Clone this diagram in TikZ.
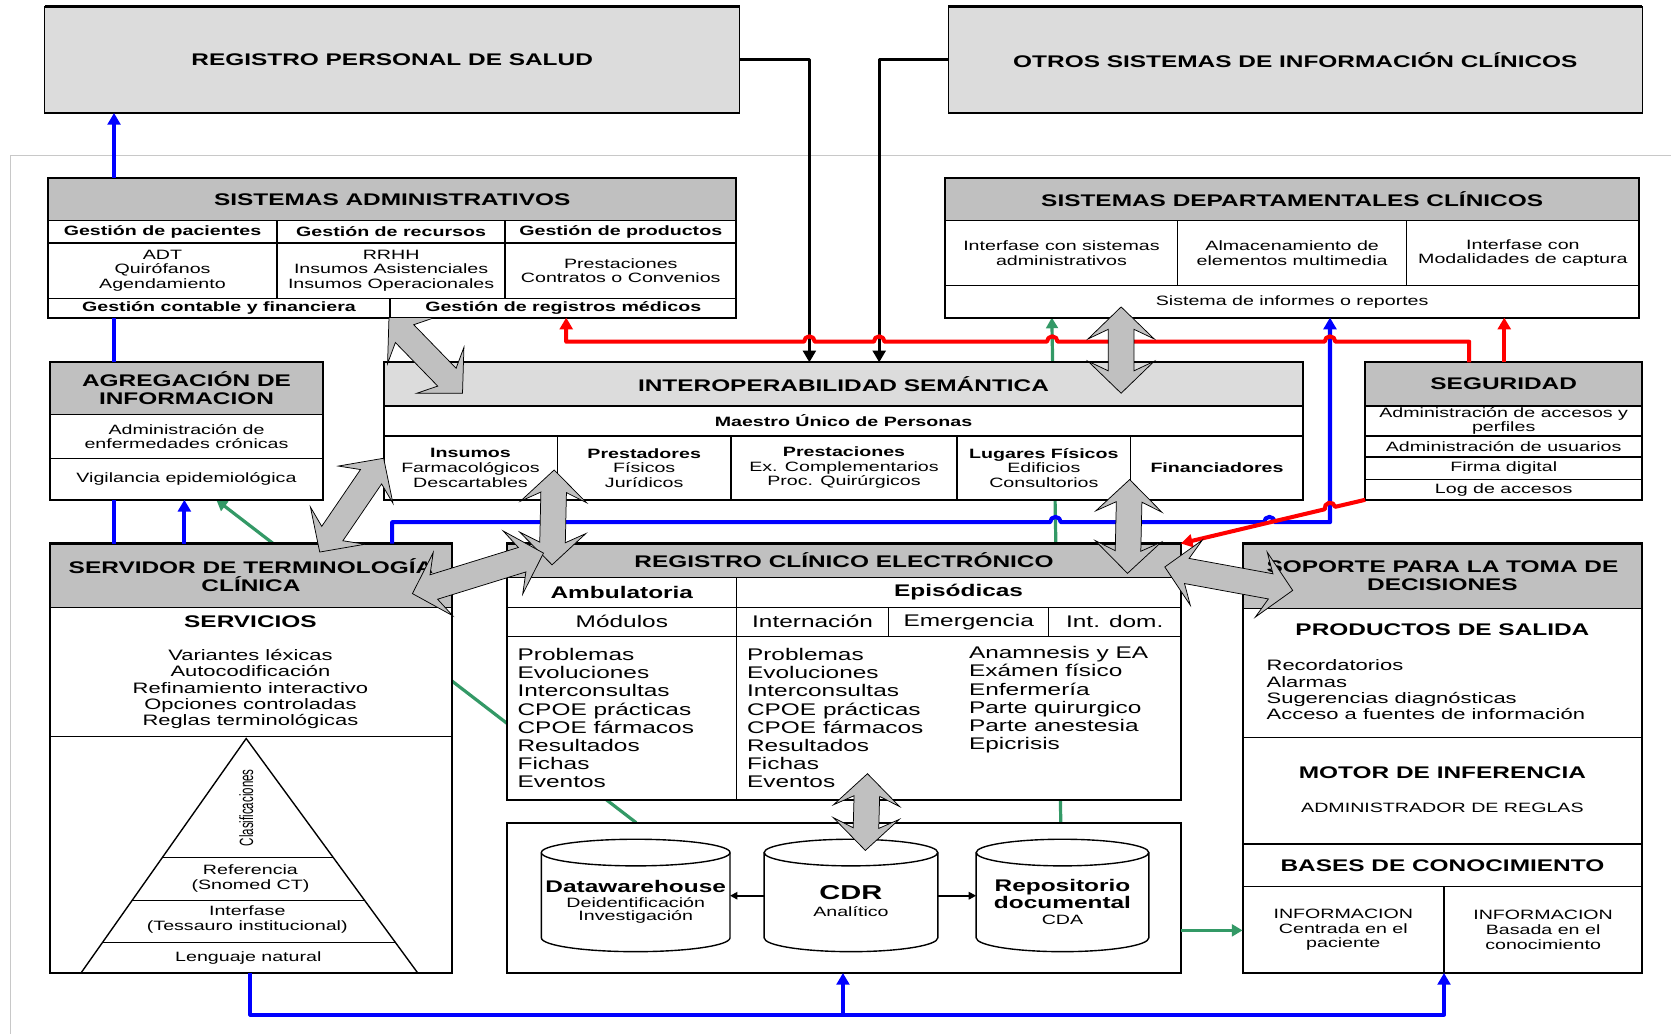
\documentclass[tikz,border=0pt]{standalone}
\usepackage{fontspec}
\setmainfont{Liberation Sans}[FakeStretch=1.45]
\newfontfamily\narrowsans{Liberation Sans}[FakeStretch=0.6]
\usetikzlibrary{arrows.meta,calc,backgrounds}

\definecolor{hdrgray}{HTML}{C0C0C0}
\definecolor{ltgray}{HTML}{DCDCDC}
\definecolor{arrgray}{HTML}{C0C0C0}
\definecolor{lnblue}{HTML}{0000FF}
\definecolor{lnred}{HTML}{FF0000}
\definecolor{lngreen}{HTML}{339966}
\definecolor{framegray}{HTML}{C8C8C8}

\newcommand\fL{\fontsize{15.8pt}{17.1pt}\selectfont}
\newcommand\fM{\fontsize{14.2pt}{15.3pt}\selectfont}
\newcommand\fS{\fontsize{12.7pt}{13.7pt}\selectfont}

% a cell given by its corners (x1,y1)-(x2,y2), y growing downwards
\newcommand\cel[7]{\node[#6,minimum width={#4-#2},minimum height={#5-#3}] (#1) at ({(#2+#4)/2},{(#3+#5)/2}) {#7};}
% heavy outline of a whole block
\newcommand\frm[5]{\node[outerbox,minimum width={#4-#2},minimum height={#5-#3}] (#1) at ({(#2+#4)/2},{(#3+#5)/2}) {};}
% database cylinder: name, centre x, half width
\newcommand\cyl[3]{%
  \node[inner sep=0pt,outer sep=0pt,minimum width={2*#3},minimum height=105] (#1) at (#2,840.5) {};
  \draw[line width=1.3pt,fill=white] ({#2-#3},800) -- ({#2-#3},880)
     arc[start angle=180,end angle=360,x radius={#3*1pt},y radius=13pt] -- ({#2+#3},800);
  \draw[line width=1.3pt,fill=white] (#2,800) ellipse[x radius={#3*1pt},y radius=12.5pt];}
% broad grey double-headed arrow between two points
\newcommand\fatarrow[2]{%
  \path[fatarr] let \p1=(#1), \p2=(#2),
     \n1={atan2(\y2-\y1,\x2-\x1)}, \n3={atan2(\y2-\y1,\x2-\x1)+90} in
     (\p1)
     -- ($(\p1)+(\n1:30pt)+(\n3:31pt)$)
     -- ($(\p1)+(\n1:21pt)+(\n3:12pt)$)
     -- ($(\p2)+(\n1:-21pt)+(\n3:12pt)$)
     -- ($(\p2)+(\n1:-30pt)+(\n3:31pt)$)
     -- (\p2)
     -- ($(\p2)+(\n1:-30pt)+(\n3:-31pt)$)
     -- ($(\p2)+(\n1:-21pt)+(\n3:-12pt)$)
     -- ($(\p1)+(\n1:21pt)+(\n3:-12pt)$)
     -- ($(\p1)+(\n1:30pt)+(\n3:-31pt)$)
     -- cycle;}

\tikzset{
  cellb/.style={draw,line width=1.3pt,fill=white,inner sep=0pt,outer sep=0pt,align=center,font=\fS},
  hdr/.style={cellb,fill=hdrgray,font=\fL\bfseries},
  lthdr/.style={cellb,fill=ltgray,font=\fL\bfseries},
  topbox/.style={draw,line width=1pt,fill=ltgray,inner sep=0pt,outer sep=0pt,align=center,font=\fL\bfseries},
  outerbox/.style={draw,line width=2pt,inner sep=0pt,outer sep=0pt},
  txt/.style={inner sep=0pt,outer sep=0pt,align=center},
  lst/.style={inner sep=0pt,outer sep=0pt,align=left},
  tip/.style={-{Triangle[length=11pt,width=12pt]}},
  blu/.style={draw=lnblue,line width=3.8pt,line join=round,tip},
  rd/.style={draw=lnred,line width=3.8pt,line join=round,tip},
  grn/.style={draw=lngreen,line width=3pt,line join=round,-{Triangle[length=10pt,width=11pt]}},
  blk/.style={draw=black,line width=3.2pt,line join=round,tip},
  thin/.style={draw=black,line width=1.6pt,-{Triangle[length=7pt,width=7pt]}},
  fatarr/.style={fill=arrgray,draw=black,line width=0.7pt,line join=miter},
}

\begin{document}
\begin{tikzpicture}[x=1pt,y=-1pt]
\useasboundingbox (0,0) rectangle (1568,970);

% ---------- external systems ----------
\cel{rps}{42}{6}{694}{106}{topbox}{REGISTRO PERSONAL DE SALUD}
\cel{osic}{890}{6}{1541}{106}{topbox}{OTROS SISTEMAS DE INFORMACIÓN CLÍNICOS}
\foreach \b in {rps,osic}{
  \draw[line width=2.6pt] (\b.north west) -- (\b.north east);
  \draw[line width=2.6pt] (\b.south west) -- (\b.south east);}

% ---------- Sistemas administrativos ----------
\cel{saH}{45}{167}{691}{207}{hdr}{SISTEMAS ADMINISTRATIVOS}
\cel{saG1}{45}{207}{260}{228}{cellb,font=\fS\bfseries}{Gestión de pacientes}
\cel{saG2}{260}{207}{474}{228}{cellb,font=\fS\bfseries}{Gestión de recursos}
\cel{saG3}{474}{207}{691}{228}{cellb,font=\fS\bfseries}{Gestión de productos}
\cel{saL1}{45}{228}{260}{280}{cellb}{ADT\\Quirófanos\\Agendamiento}
\cel{saL2}{260}{228}{474}{280}{cellb}{RRHH\\Insumos Asistenciales\\Insumos Operacionales}
\cel{saL3}{474}{228}{691}{280}{cellb}{Prestaciones\\Contratos o Convenios}
\cel{saC}{45}{280}{366}{298}{cellb,font=\fS\bfseries}{Gestión contable y financiera}
\cel{saR}{366}{280}{691}{298}{cellb,font=\fS\bfseries}{Gestión de registros médicos}
\frm{sa}{45}{167}{691}{298}

% ---------- Sistemas departamentales clínicos ----------
\cel{sdcH}{887}{167}{1538}{207}{hdr}{SISTEMAS DEPARTAMENTALES CLÍNICOS}
\cel{sdc1}{887}{207}{1105}{268}{cellb}{Interfase con sistemas\\administrativos}
\cel{sdc2}{1105}{207}{1320}{268}{cellb}{Almacenamiento de\\elementos multimedia}
\cel{sdc3}{1320}{207}{1538}{268}{cellb}{Interfase con\\Modalidades de captura}
\cel{sdc4}{887}{268}{1538}{298}{cellb}{Sistema de informes o reportes}
\frm{sdc}{887}{167}{1538}{298}

% ---------- Agregación de información ----------
\cel{agrH}{47}{340}{303}{389}{hdr}{AGREGACIÓN DE\\INFORMACION}
\cel{agr1}{47}{389}{303}{430}{cellb}{Administración de\\enfermedades crónicas}
\cel{agr2}{47}{430}{303}{469}{cellb}{Vigilancia epidemiológica}
\frm{agr}{47}{340}{303}{469}

% ---------- Interoperabilidad semántica ----------
\cel{iopH}{360}{340}{1223}{381}{lthdr}{INTEROPERABILIDAD SEMÁNTICA}
\cel{iopM}{360}{381}{1223}{409}{cellb,font=\fS\bfseries}{Maestro Único de Personas}
\cel{iop1}{360}{409}{523}{469}{cellb}{\textbf{Insumos}\\Farmacológicos\\Descartables}
\cel{iop2}{523}{409}{686}{469}{cellb}{\textbf{Prestadores}\\Físicos\\Jurídicos}
\cel{iop3}{686}{409}{898}{469}{cellb}{\textbf{Prestaciones}\\Ex. Complementarios\\Proc. Quirúrgicos}
\cel{iop4}{898}{409}{1061}{469}{cellb}{\textbf{Lugares Físicos}\\Edificios\\Consultorios}
\cel{iop5}{1061}{409}{1223}{469}{cellb,font=\fS\bfseries}{Financiadores}
\frm{iop}{360}{340}{1223}{469}

% ---------- Seguridad ----------
\cel{segH}{1281}{340}{1541}{381}{hdr}{SEGURIDAD}
\cel{seg1}{1281}{381}{1541}{409}{cellb}{Administración de accesos y\\perfiles}
\cel{seg2}{1281}{409}{1541}{429}{cellb}{Administración de usuarios}
\cel{seg3}{1281}{429}{1541}{450}{cellb}{Firma digital}
\cel{seg4}{1281}{450}{1541}{469}{cellb}{Log de accesos}
\frm{seg}{1281}{340}{1541}{469}

% ---------- Servidor de terminología clínica ----------
\cel{stcH}{47}{510}{424}{570}{hdr}{SERVIDOR DE TERMINOLOGÍA\\CLÍNICA}
\cel{stcS}{47}{570}{424}{691}{cellb}{}
\cel{stcP}{47}{691}{424}{913}{cellb}{}
\node[txt,font=\fL\bfseries] (srvT) at (235,583.5) {SERVICIOS};
\node[txt,font=\fM] (srvL) at (235,646.6) {Variantes léxicas\\Autocodificación\\Refinamiento interactivo\\Opciones controladas\\Reglas terminológicas};
% terminology pyramid
\coordinate (pa) at (231,693);
\coordinate (pl) at (76,913);
\coordinate (pr) at (392,913);
\draw[line width=1.3pt,line join=miter] (pl) -- (pa) -- (pr);
\foreach \t in {0.5068,0.6909,0.8705}
  \draw[line width=1.3pt] ($(pa)!\t!(pl)$) -- ($(pa)!\t!(pr)$);
\node[txt,rotate=90,font=\narrowsans\fontsize{18pt}{20pt}\selectfont] (clas) at (231,758) {Clasificaciones};
\node[txt,font=\fS] (pref) at (235,824.3) {Referencia\\(Snomed CT)};
\node[txt,font=\fS] (pint) at (232,862.8) {Interfase\\(Tessauro institucional)};
\node[txt,font=\fS] (plen) at (233,899) {Lenguaje natural};
\frm{stc}{47}{510}{424}{913}

% ---------- Registro clínico electrónico ----------
\cel{rceH}{476}{510}{1108}{542}{hdr}{REGISTRO CLÍNICO ELECTRÓNICO}
\cel{rceA}{476}{542}{691}{570}{cellb,font=\fL\bfseries}{Ambulatoria}
\cel{rceE}{691}{542}{1108}{570}{cellb,font=\fL\bfseries}{Episódicas}
\cel{rceM}{476}{570}{691}{597}{cellb,font=\fL}{Módulos}
\cel{rceI}{691}{570}{834}{597}{cellb,font=\fL}{Internación}
\cel{rceG}{834}{570}{984}{597}{cellb,font=\fL}{Emergencia}
\cel{rceD}{984}{570}{1108}{597}{cellb,font=\fL}{Int. dom.}
\cel{rceL}{476}{597}{691}{751}{cellb}{}
\cel{rceR}{691}{597}{1108}{751}{cellb}{}
\node[lst,font=\fL,anchor=west] (ambL) at (485.7,673.9) {Problemas\\Evoluciones\\Interconsultas\\CPOE prácticas\\CPOE fármacos\\Resultados\\Fichas\\Eventos};
\node[lst,font=\fL,anchor=west] (epiL) at (701,673.9) {Problemas\\Evoluciones\\Interconsultas\\CPOE prácticas\\CPOE fármacos\\Resultados\\Fichas\\Eventos};
\node[lst,font=\fL,anchor=west] (epiR) at (909.3,656.8) {Anamnesis y EA\\Exámen físico\\Enfermería\\Parte quirurgico\\Parte anestesia\\Epicrisis};
\frm{rce}{476}{510}{1108}{751}

% ---------- repositories ----------
\cel{stoB}{476}{772}{1108}{913}{cellb}{}
\frm{sto}{476}{772}{1108}{913}
\cyl{dw}{596.5}{88.5}
\cyl{cdr}{798.5}{81.5}
\cyl{rep}{997}{81}
\node[txt,font=\fL\bfseries] (dwA) at (596.5,832) {Datawarehouse};
\node[txt,font=\fontsize{12.7pt}{12.8pt}\selectfont] (dwB) at (596.5,854.3) {Deidentificación\\Investigación};
\node[txt,font=\fontsize{18.8pt}{20pt}\selectfont\bfseries] (cdrA) at (798.5,838) {CDR};
\node[txt,font=\fS] (cdrB) at (798.5,855.5) {Analítico};
\node[txt,font=\fontsize{15.8pt}{16.5pt}\selectfont\bfseries] (repA) at (997,838.8) {Repositorio\\documental};
\node[txt,font=\fS] (repB) at (997,863) {CDA};
\draw[thin] (cdr.west) -- (dw.east);
\draw[thin] (cdr.east) -- (rep.west);

% ---------- Soporte para la toma de decisiones ----------
\cel{sopH}{1166}{510}{1541}{571}{hdr}{SOPORTE PARA LA TOMA DE\\DECISIONES}
\cel{sopP}{1166}{571}{1541}{692}{cellb}{}
\cel{sopM}{1166}{692}{1541}{792}{cellb}{}
\cel{sopB}{1166}{792}{1541}{832}{cellb,font=\fL\bfseries}{BASES DE CONOCIMIENTO}
\cel{sopI1}{1166}{832}{1355}{913}{cellb}{INFORMACION\\Centrada en el\\paciente}
\cel{sopI2}{1355}{832}{1541}{913}{cellb}{INFORMACION\\Basada en el\\conocimiento}
\node[txt,font=\fL\bfseries] (prdT) at (1353.5,591.2) {PRODUCTOS DE SALIDA};
\node[lst,font=\fM,anchor=west] (prdL) at (1188.6,647.3) {Recordatorios\\Alarmas\\Sugerencias diagnósticas\\Acceso a fuentes de información};
\node[txt,font=\fL\bfseries] (motT) at (1353.5,725.2) {MOTOR DE INFERENCIA};
\node[txt,font=\fS] (motS) at (1353.5,758.4) {ADMINISTRADOR DE REGLAS};
\frm{sop}{1166}{510}{1541}{913}

% ---------- lines running behind the blocks ----------
\begin{pgfonlayer}{background}
  \fill[white] (0,0) rectangle (1568,970);
  \draw[framegray,line width=1.5pt] (10,970) -- (10,146) -- (1568,146);
  \draw[grn] (sto.north -| 597,0) -- (agr.south -| 203,0);
  \draw[grn] (sto.north -| 995.4,0) -- (sdc.south -| 987,0);
\end{pgfonlayer}

% ---------- green link to the knowledge bases ----------
\draw[grn] (sto.east |- 0,873) -- (sop.west |- 0,873);

% ---------- blue links ----------
\draw[blu] (sa.north -| 107,0) -- (rps.south -| 107,0);
\draw[blu,-] (agr.north -| 107,0) -- (sa.south -| 107,0);
\draw[blu,-] (stc.north -| 107,0) -- (agr.south -| 107,0);
\draw[blu] (stc.north -| 173,0) -- (agr.south -| 173,0);
\draw[blu] (stc.north -| 368,0) -- (368,490) -- (985.4,490)
   arc[start angle=180,end angle=0,radius=5pt] -- (1186.2,490)
   arc[start angle=180,end angle=0,radius=5pt] -- (1248,490) -- (sdc.south -| 1248,0);
\coordinate (bj) at (791,952);
\draw[blu] (stc.south -| 235,0) -- (235,952) -- (1355,952) -- (sop.south -| 1355,0);
\draw[blu] (bj) -- (sto.south -| 791,0);

% ---------- black links from the external systems ----------
\draw[blk] (rps.east |- 0,56) -| (iop.north -| 759.5,0);
\draw[blk] (osic.west |- 0,56) -| (iop.north -| 825,0);

% ---------- red links from Seguridad ----------
\draw[rd] (seg.north -| 1378.6,0) -- (1378.6,320.6) -- (1253,320.6)
   arc[start angle=0,end angle=180,radius=5pt] -- (992.4,320.6)
   arc[start angle=0,end angle=180,radius=5pt] -- (830,320.6)
   arc[start angle=0,end angle=180,radius=5pt] -- (764.5,320.6)
   arc[start angle=0,end angle=180,radius=5pt] -- (531.3,320.6) -- (sa.south -| 531.3,0);
\draw[rd] (seg.north -| 1411.5,0) -- (sdc.south -| 1411.5,0);
\draw[rd] (seg.south west) -- (1252.87,475.58)
   arc[start angle=13.17,end angle=193.17,radius=5pt] -- (rce.north east);

% ---------- broad two-way exchanges ----------
\coordinate (fa1) at (sa.south -| 365,0);
\coordinate (fa2) at ($(iop.north -| 434,0)+(0,29)$);
\coordinate (fb1) at ($(sdc.south -| 1052,0)+(0,-10)$);
\coordinate (fb2) at ($(iop.north -| 1052,0)+(0,29)$);
\coordinate (fc1) at ($(stc.north -| 300,0)+(0,8)$);
\coordinate (fc2) at (iop.west |- 0,430);
\coordinate (fd1) at ($(iop.south -| 520,0)+(0,-28)$);
\coordinate (fd2) at ($(rce.north -| 518,0)+(0,20)$);
\coordinate (fe1) at ($(iop.south -| 1060,0)+(0,-19)$);
\coordinate (fe2) at ($(rce.north -| 1058,0)+(0,28)$);
\coordinate (ff1) at ($(stc.north east)+(-37,47)$);
\coordinate (ff2) at ($(rce.north west)+(34,9)$);
\coordinate (fg1) at ($(rce.north east)+(-15,22)$);
\coordinate (fg2) at ($(sop.north west)+(47,44)$);
\coordinate (fh1) at ($(rce.south -| 814,0)+(0,-25)$);
\coordinate (fh2) at ($(cdr.north -| 812,0)+(0,10)$);
\fatarrow{fa1}{fa2}
\fatarrow{fb1}{fb2}
\fatarrow{fc1}{fc2}
\fatarrow{fd1}{fd2}
\fatarrow{fe1}{fe2}
\fatarrow{ff1}{ff2}
\fatarrow{fg1}{fg2}
\fatarrow{fh1}{fh2}
\end{tikzpicture}
\end{document}
